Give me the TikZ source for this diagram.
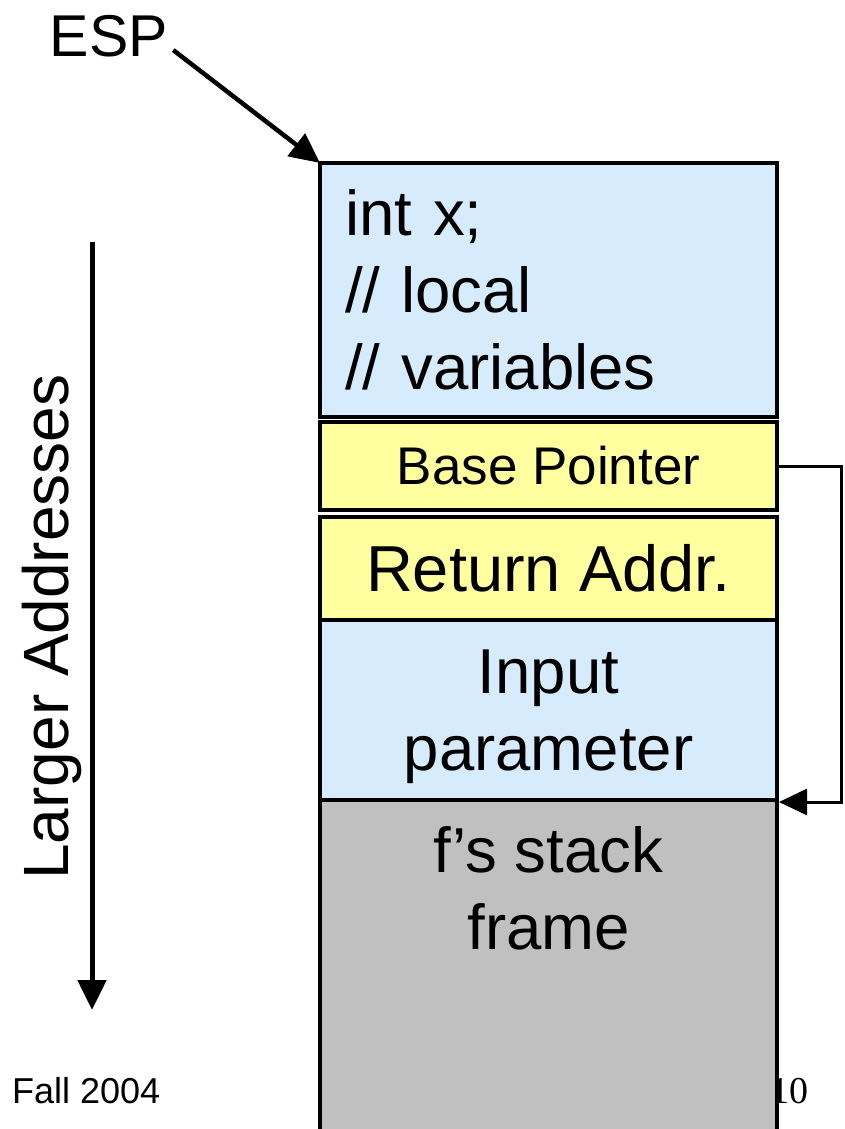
\documentclass[tikz,border=0pt]{standalone}
\usepackage{fontspec}
\setmainfont{Liberation Sans}
\newfontfamily\pagenumfont{Liberation Serif}
\usetikzlibrary{arrows.meta}
\definecolor{stackblue}{RGB}{214,236,252}
\definecolor{stackyellow}{RGB}{255,255,160}
\definecolor{stackgray}{RGB}{191,192,191}
\begin{document}
\begin{tikzpicture}[x=1pt,y=-1pt,
  slot/.style={draw=black, line width=4.5pt, minimum width=457pt, inner sep=0pt, outer sep=0pt, anchor=north},
  bigtext/.style={font=\fontsize{63.5}{77}\selectfont},
  pointer/.style={draw=black, line width=4.5pt, -{Triangle[length=30pt,width=28pt]}},
  linkline/.style={draw=black, line width=3pt, -{Triangle[length=28pt,width=26pt]}}
]
\useasboundingbox (0,0) rectangle (844,1129);
% page number (drawn first so the box border overlaps it)
\node[anchor=base east, inner sep=0pt, font=\pagenumfont\fontsize{38}{40}\selectfont] (pagenum) at (809,1103) {10};
\node[anchor=base west, inner sep=0pt, font=\fontsize{36}{40}\selectfont] (fall) at (12,1103) {Fall 2004};

% stack slots
\node[slot, fill=stackblue, minimum height=254pt, text width=407pt, align=left, bigtext] (locals) at (548.5,163) {int x;\\// local\\// variables};
\node[slot, fill=stackyellow, minimum height=88pt, font=\fontsize{53}{60}\selectfont] (bp) at (548.5,422) {Base Pointer};
\node[slot, fill=stackyellow, minimum height=103pt, font=\fontsize{65}{70}\selectfont] (ret) at (548.5,517) {Return Addr.};
\node[slot, fill=stackblue, minimum height=180pt] (input) at (548.5,620) {};
\node[anchor=north, fill=stackgray, minimum width=457pt, minimum height=329pt, inner sep=0pt, outer sep=0pt] (frame) at (548.5,800) {};
\draw[line width=4.5pt] (frame.south west) -- (frame.north west) -- (frame.north east) -- (frame.south east);

\node[bigtext, align=center, inner sep=0pt] (inputtext) at (548.5,717) {Input\\parameter};
\node[bigtext, align=center, inner sep=0pt] (frametext) at (548.5,888) {f’s stack\\frame};

% ESP pointer
\node[inner sep=0pt, font=\fontsize{59}{60}\selectfont] (esp) at (109,36) {ESP};
\draw[pointer] ([shift={(5,-7)}]esp.south east) -- (locals.north west);

% Larger addresses
\node[rotate=90, anchor=base, inner sep=0pt, font=\fontsize{64}{70}\selectfont] (larger) at (68,627) {Larger Addresses};
\coordinate (addrtop) at (92,242);
\coordinate (addrbot) at (92,1010);
\draw[pointer, line width=5pt] (addrtop) -- (addrbot);

% base pointer link
\coordinate (linkcorner) at (841,466);
\coordinate (linkend) at (779,802);
\draw[linkline] (bp.east) -- (linkcorner) |- (linkend);
\end{tikzpicture}
\end{document}
